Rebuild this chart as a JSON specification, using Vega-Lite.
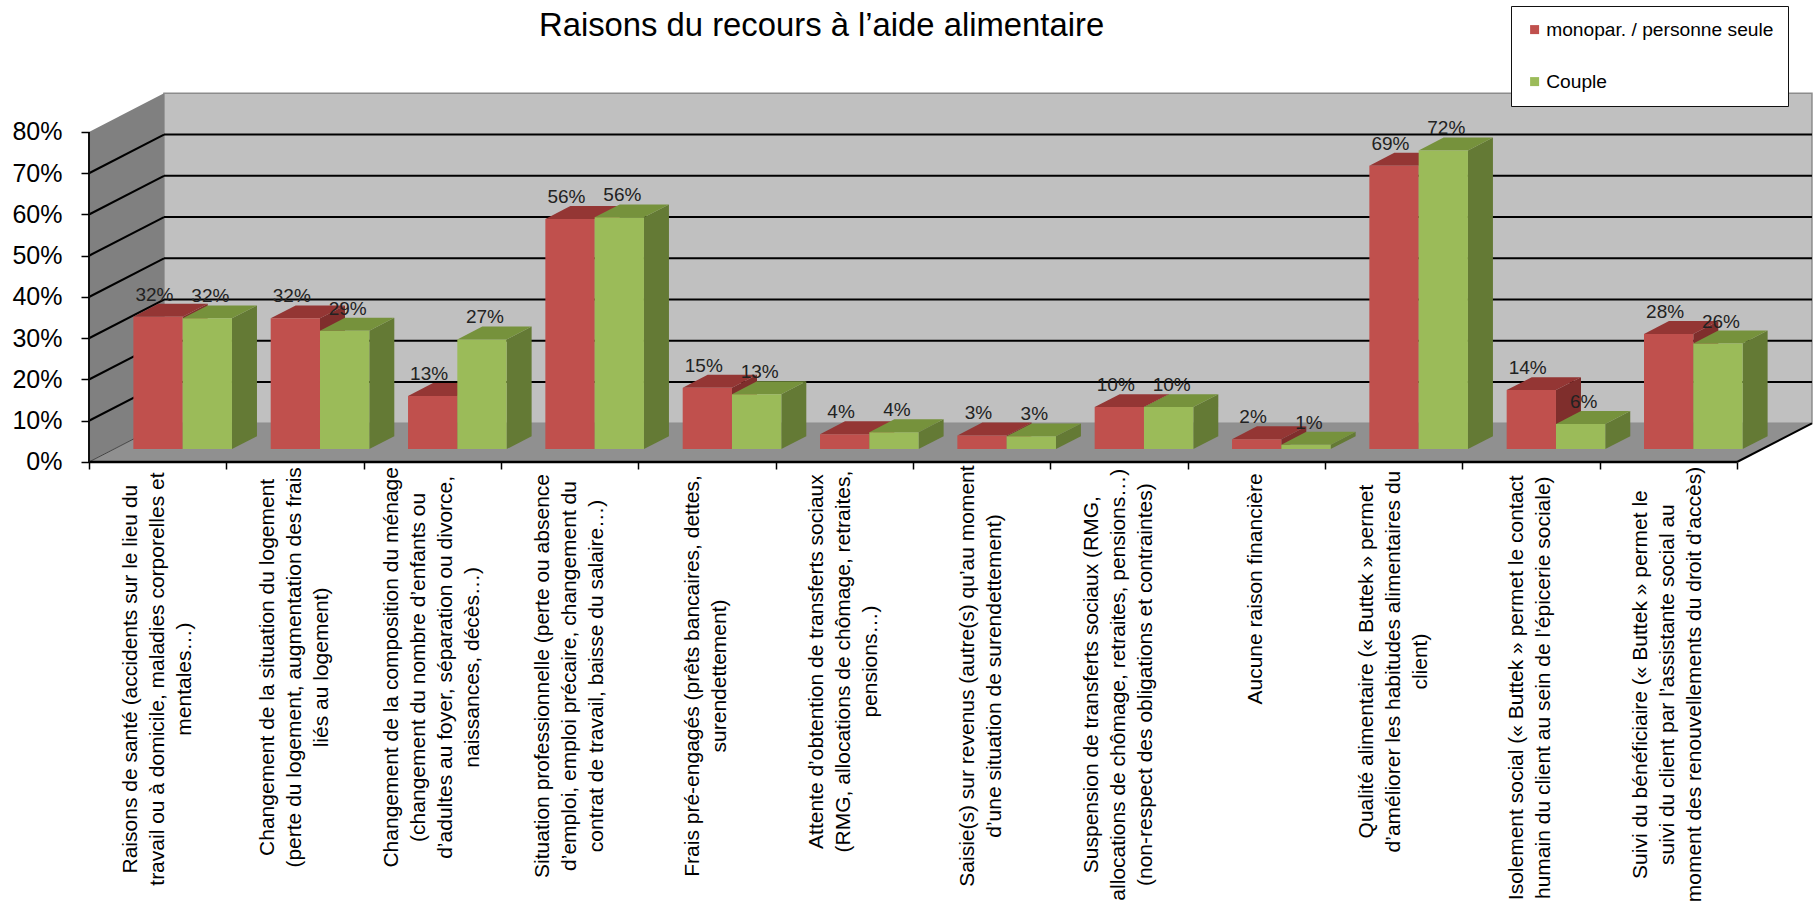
{
"$schema":"https://vega.github.io/schema/vega-lite/v6.json",
"width":1813,"height":914,"padding":0,"autosize":{"type":"none"},"background":"white",
"config":{"view":{"stroke":null},"font":"Liberation Sans"},
"title":{"text":"Raisons du recours à l’aide alimentaire","font":"Liberation Sans","fontSize":32.8,"fontWeight":"normal","color":"#000000","anchor":"start","frame":"group","dx":539,"offset":-43},
"datasets":{
"barres":[
{"rang":1,"serie":"monopar. / personne seule","valeur":32.1},{"rang":1,"serie":"Couple","valeur":31.7},
{"rang":2,"serie":"monopar. / personne seule","valeur":31.7},{"rang":2,"serie":"Couple","valeur":28.7},
{"rang":3,"serie":"monopar. / personne seule","valeur":12.9},{"rang":3,"serie":"Couple","valeur":26.6},
{"rang":4,"serie":"monopar. / personne seule","valeur":55.8},{"rang":4,"serie":"Couple","valeur":56.2},
{"rang":5,"serie":"monopar. / personne seule","valeur":14.9},{"rang":5,"serie":"Couple","valeur":13.3},
{"rang":6,"serie":"monopar. / personne seule","valeur":3.6},{"rang":6,"serie":"Couple","valeur":4.1},
{"rang":7,"serie":"monopar. / personne seule","valeur":3.3},{"rang":7,"serie":"Couple","valeur":3.1},
{"rang":8,"serie":"monopar. / personne seule","valeur":10.2},{"rang":8,"serie":"Couple","valeur":10.2},
{"rang":9,"serie":"monopar. / personne seule","valeur":2.4},{"rang":9,"serie":"Couple","valeur":1.05},
{"rang":10,"serie":"monopar. / personne seule","valeur":68.7},{"rang":10,"serie":"Couple","valeur":72.4},
{"rang":11,"serie":"monopar. / personne seule","valeur":14.3},{"rang":11,"serie":"Couple","valeur":6.1},
{"rang":12,"serie":"monopar. / personne seule","valeur":27.9},{"rang":12,"serie":"Couple","valeur":25.6}
],
"libelles":[
{"rang":1,"lignes":["Raisons de santé (accidents sur le lieu du","travail ou à domicile, maladies corporelles et","mentales…)"]},
{"rang":2,"lignes":["Changement de la situation du logement","(perte du logement, augmentation des frais","liés au logement)"]},
{"rang":3,"lignes":["Changement de la composition du ménage","(changement du nombre d’enfants ou","d’adultes au foyer, séparation ou divorce,","naissances, décès…)"]},
{"rang":4,"lignes":["Situation professionnelle (perte ou absence","d’emploi, emploi précaire, changement du","contrat de travail, baisse du salaire…)"]},
{"rang":5,"lignes":["Frais pré-engagés (prêts bancaires, dettes,","surendettement)"]},
{"rang":6,"lignes":["Attente d’obtention de transferts sociaux","(RMG, allocations de chômage, retraites,","pensions…)"]},
{"rang":7,"lignes":["Saisie(s) sur revenus (autre(s) qu’au moment","d’une situation de surendettement)"]},
{"rang":8,"lignes":["Suspension de transferts sociaux (RMG,","allocations de chômage, retraites, pensions…)","(non-respect des obligations et contraintes)"]},
{"rang":9,"lignes":["Aucune raison financière"]},
{"rang":10,"lignes":["Qualité alimentaire (« Buttek » permet","d’améliorer les habitudes alimentaires du","client)"]},
{"rang":11,"lignes":["Isolement social (« Buttek » permet le contact","humain du client au sein de l’épicerie sociale)"]},
{"rang":12,"lignes":["Suivi du bénéficiaire (« Buttek » permet le","suivi du client par l’assistante social au","moment des renouvellements du droit d’accès)"]}
],
"profondeur":[{"z":0},{"z":1}],
"graduations":[{"pct":10},{"pct":20},{"pct":30},{"pct":40},{"pct":50},{"pct":60},{"pct":70}]
},
"layer":[
{"data":{"name":"profondeur"},"transform":[{"filter":"datum.z==1"}],"mark":{"type":"rect","color":"#c0c0c0","stroke":"#8c8c8c","strokeWidth":1.5},
 "encoding":{
  "x":{"datum":0.5461,"type":"quantitative","scale":{"domain":[-0.6481,12.5536],"nice":false,"zero":false},"axis":{"values":[0,1,2,3,4,5,6,7,8,9,10,11,12],"orient":"bottom","offset":-452,"title":null,"labels":false,"domain":false,"grid":false,"tickSize":7,"tickColor":"#000000","tickWidth":1.5,"zindex":1}},
  "x2":{"datum":12.5461},
  "y":{"datum":9.38,"type":"quantitative","scale":{"domain":[-109.576,112],"nice":false,"zero":false},"axis":{"values":[0,10,20,30,40,50,60,70,80],"orient":"left","offset":-89,"title":null,"domain":false,"grid":false,"tickSize":8,"tickColor":"#000000","tickWidth":1.5,"labelExpr":"datum.value+'%'","labelFontSize":25,"labelColor":"#000000","labelFont":"Liberation Sans","labelPadding":19,"labelBound":false,"labelOverlap":false,"zindex":1}},
  "y2":{"datum":89.38}}},
{"data":{"name":"profondeur"},"transform":[{"calculate":"datum.z*0.5461","as":"xp"},{"calculate":"80+9.38*datum.z","as":"yh"},{"calculate":"9.38*datum.z","as":"yb"}],"mark":{"type":"area","orient":"vertical","color":"#808080","opacity":1},
 "encoding":{"x":{"field":"xp","type":"quantitative"},"y":{"field":"yh","type":"quantitative","stack":null},"y2":{"field":"yb"}}},
{"data":{"name":"profondeur"},"transform":[{"calculate":"datum.z*0.5461","as":"xa"},{"calculate":"12+datum.z*0.5461","as":"xb"},{"calculate":"9.38*datum.z","as":"yb"}],"mark":{"type":"area","orient":"horizontal","color":"#909090","opacity":1},
 "encoding":{"y":{"field":"yb","type":"quantitative"},"x":{"field":"xa","type":"quantitative","stack":null},"x2":{"field":"xb"}}},
{"data":{"name":"graduations"},"transform":[{"calculate":"datum.pct+9.38","as":"yf"}],"mark":{"type":"rule","color":"#000000","strokeWidth":2},
 "encoding":{"x":{"datum":0},"x2":{"datum":0.5461},"y":{"field":"pct","type":"quantitative"},"y2":{"field":"yf"}}},
{"data":{"name":"graduations"},"transform":[{"calculate":"datum.pct+9.38","as":"yf"}],"mark":{"type":"rule","color":"#000000","strokeWidth":2},
 "encoding":{"x":{"datum":0.5461},"x2":{"datum":12.5461},"y":{"field":"yf","type":"quantitative"}}},
{"data":{"name":"profondeur"},"transform":[{"calculate":"datum.z*0.5461","as":"xa"},{"calculate":"9.38*datum.z","as":"yb"}],"mark":{"type":"line","color":"#444444","strokeWidth":1},
 "encoding":{"x":{"field":"xa","type":"quantitative"},"y":{"field":"yb","type":"quantitative"}}},
{"data":{"name":"profondeur"},"transform":[{"calculate":"12+datum.z*0.5461","as":"xa"},{"calculate":"9.38*datum.z","as":"yb"}],"mark":{"type":"line","color":"#000000","strokeWidth":2},
 "encoding":{"x":{"field":"xa","type":"quantitative"},"y":{"field":"yb","type":"quantitative"}}},
{"data":{"name":"profondeur"},"transform":[{"filter":"datum.z==0"}],"mark":{"type":"rule","color":"#000000","strokeWidth":2.5},
 "encoding":{"x":{"datum":0},"x2":{"datum":12},"y":{"datum":0}}},
{"data":{"name":"profondeur"},"transform":[{"filter":"datum.z==0"}],"mark":{"type":"rule","color":"#111111","strokeWidth":2},
 "encoding":{"x":{"datum":0},"y":{"datum":0},"y2":{"datum":80}}},

{"data":{"name":"barres"},"transform":[{"filter":"datum.serie!=='Couple'"},{"calculate":"datum.rang-1+0.141","as":"xg"}],
 "layer":[
 {"transform":[{"calculate":"[1/3,2/3]","as":"z"},{"flatten":["z"]},{"calculate":"datum.xg+0.359+0.5461*datum.z","as":"xs"},{"calculate":"datum.valeur+9.38*datum.z","as":"yh"},{"calculate":"9.38*datum.z","as":"yb"}],
  "mark":{"type":"area","orient":"vertical","color":"#7f2e2c","opacity":1},
  "encoding":{"detail":{"field":"rang"},"x":{"field":"xs","type":"quantitative"},"y":{"field":"yh","type":"quantitative","stack":null},"y2":{"field":"yb"}}},
 {"transform":[{"calculate":"[1/3,2/3]","as":"z"},{"flatten":["z"]},{"calculate":"datum.xg+0.5461*datum.z","as":"xa"},{"calculate":"datum.xa+0.359","as":"xb"},{"calculate":"datum.valeur+9.38*datum.z","as":"yh"}],
  "mark":{"type":"area","orient":"horizontal","color":"#943634","opacity":1},
  "encoding":{"detail":{"field":"rang"},"y":{"field":"yh","type":"quantitative"},"x":{"field":"xa","type":"quantitative","stack":null},"x2":{"field":"xb"}}},
 {"transform":[{"calculate":"datum.xg+0.5461/3","as":"xa"},{"calculate":"datum.xa+0.359","as":"xb"},{"calculate":"datum.valeur+9.38/3","as":"yh"},{"calculate":"9.38/3","as":"yb"}],
  "mark":{"type":"rect"},
  "encoding":{"x":{"field":"xa","type":"quantitative"},"x2":{"field":"xb"},"y":{"field":"yh","type":"quantitative"},"y2":{"field":"yb"},
   "color":{"field":"serie","type":"nominal","sort":null,"scale":{"domain":["monopar. / personne seule","Couple"],"range":["#c0504d","#9bbb59"]},
    "legend":{"orient":"none","legendX":1511,"legendY":6,"title":null,"fillColor":"#ffffff","strokeColor":"#111111","symbolType":"square","symbolSize":81,"symbolStrokeWidth":0,"labelFontSize":19.2,"labelFont":"Liberation Sans","labelColor":"#000000","padding":14,"rowPadding":32,"labelOffset":2,"labelLimit":300,"cornerRadius":0}}}}
 ]},
{"data":{"name":"barres"},"transform":[{"filter":"datum.serie==='Couple'"},{"calculate":"datum.rang-1+0.5","as":"xg"}],
 "layer":[
 {"transform":[{"calculate":"[1/3,2/3]","as":"z"},{"flatten":["z"]},{"calculate":"datum.xg+0.359+0.5461*datum.z","as":"xs"},{"calculate":"datum.valeur+9.38*datum.z","as":"yh"},{"calculate":"9.38*datum.z","as":"yb"}],
  "mark":{"type":"area","orient":"vertical","color":"#647a35","opacity":1},
  "encoding":{"detail":{"field":"rang"},"x":{"field":"xs","type":"quantitative"},"y":{"field":"yh","type":"quantitative","stack":null},"y2":{"field":"yb"}}},
 {"transform":[{"calculate":"[1/3,2/3]","as":"z"},{"flatten":["z"]},{"calculate":"datum.xg+0.5461*datum.z","as":"xa"},{"calculate":"datum.xa+0.359","as":"xb"},{"calculate":"datum.valeur+9.38*datum.z","as":"yh"}],
  "mark":{"type":"area","orient":"horizontal","color":"#76923c","opacity":1},
  "encoding":{"detail":{"field":"rang"},"y":{"field":"yh","type":"quantitative"},"x":{"field":"xa","type":"quantitative","stack":null},"x2":{"field":"xb"}}},
 {"transform":[{"calculate":"datum.xg+0.5461/3","as":"xa"},{"calculate":"datum.xa+0.359","as":"xb"},{"calculate":"datum.valeur+9.38/3","as":"yh"},{"calculate":"9.38/3","as":"yb"}],
  "mark":{"type":"rect"},
  "encoding":{"x":{"field":"xa","type":"quantitative"},"x2":{"field":"xb"},"y":{"field":"yh","type":"quantitative"},"y2":{"field":"yb"},
   "color":{"field":"serie","type":"nominal"}}}
 ]},
{"data":{"name":"barres"},"transform":[{"calculate":"datum.serie==='Couple'?1:0","as":"s"},{"calculate":"datum.rang-1+0.141+0.359*datum.s+0.182+0.1795+(datum.s==1?0.022:-0.026)","as":"xc"},{"calculate":"datum.valeur+9.38/3","as":"yh"},{"calculate":"format(datum.valeur,'.0f')+'%'","as":"etiquette"}],
 "mark":{"type":"text","font":"Liberation Sans","fontSize":19,"color":"#222222","dy":-22,"align":"center","baseline":"middle"},
 "encoding":{"x":{"field":"xc","type":"quantitative"},"y":{"field":"yh","type":"quantitative"},"text":{"field":"etiquette","type":"nominal"}}},
{"data":{"name":"libelles"},"transform":[
 {"calculate":"datum.lignes[0]||''","as":"a"},{"calculate":"datum.lignes[1]||''","as":"b"},{"calculate":"datum.lignes[2]||''","as":"c"},{"calculate":"datum.lignes[3]||''","as":"d"},
 {"calculate":"0.55*length(datum.a)-0.27*length(replace(datum.a,/[^iljtfr ,.’()]/g,''))","as":"la"},
 {"calculate":"0.55*length(datum.b)-0.27*length(replace(datum.b,/[^iljtfr ,.’()]/g,''))","as":"lb"},
 {"calculate":"0.55*length(datum.c)-0.27*length(replace(datum.c,/[^iljtfr ,.’()]/g,''))","as":"lc"},
 {"calculate":"0.55*length(datum.d)-0.27*length(replace(datum.d,/[^iljtfr ,.’()]/g,''))","as":"ld"},
 {"calculate":"21*max(datum.la,datum.lb,datum.lc,datum.ld)","as":"longueur"},
 {"calculate":"datum.rang-0.5-(length(datum.lignes)-1)*0.0983","as":"xc"},
 {"calculate":"-(11+datum.longueur/2)/4.125","as":"yc"}],
 "mark":{"type":"text","font":"Liberation Sans","fontSize":21,"lineHeight":27,"color":"#000000","angle":270,"align":"center","baseline":"middle"},
 "encoding":{"x":{"field":"xc","type":"quantitative"},"y":{"field":"yc","type":"quantitative"},"text":{"field":"lignes"}}}
]
}
